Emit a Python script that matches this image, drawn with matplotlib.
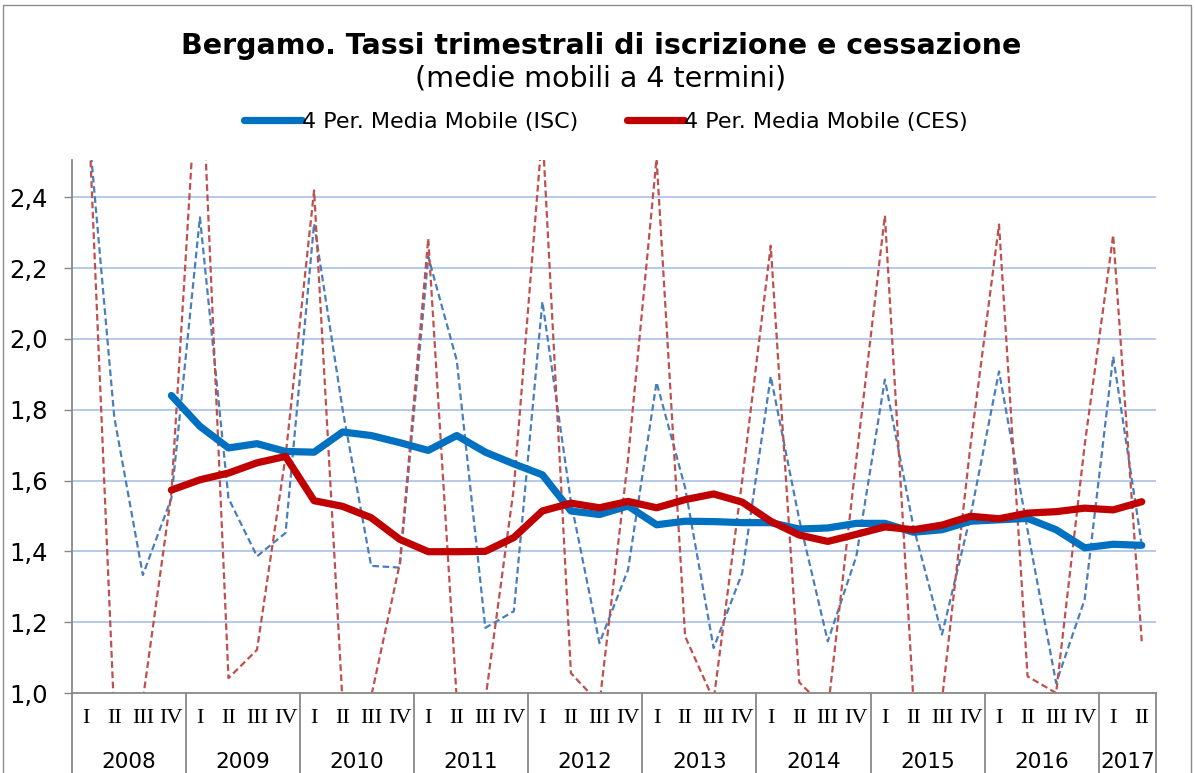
import numpy as np
import matplotlib
matplotlib.use("Agg")
import matplotlib.pyplot as plt
from matplotlib.patches import Rectangle

nan = np.nan

# trimestri 2008 I - 2017 II
trimestri = ["I", "II", "III", "IV"] * 9 + ["I", "II"]
anni = ["2008", "2009", "2010", "2011", "2012", "2013", "2014", "2015", "2016", "2017"]
trim_per_anno = [4, 4, 4, 4, 4, 4, 4, 4, 4, 2]

# tassi trimestrali (dati grezzi)
isc = [2.69, 1.778, 1.333, 1.55, 2.343, 1.55, 1.386, 1.452, 2.325, 1.80,
       1.359, 1.354, 2.232, 1.939, 1.184, 1.231, 2.105, 1.54, 1.141, 1.348,
       1.877, 1.58, 1.127, 1.339, 1.894, 1.49, 1.146, 1.386, 1.885, 1.47,
       1.165, 1.50, 1.908, 1.46, 1.028, 1.264, 1.95, 1.419]
ces = [2.82, 0.93, 0.98, 1.565, 2.89, 1.042, 1.122, 1.668, 2.419, 0.97,
       0.99, 1.364, 2.283, 0.98, 0.98, 1.58, 2.59, 1.056, 0.97, 1.66,
       2.51, 1.16, 0.98, 1.60, 2.263, 1.03, 0.95, 1.66, 2.348, 0.98,
       0.98, 1.70, 2.323, 1.047, 1.0, 1.70, 2.293, 1.146]

# medie mobili a 4 termini
isc_mm = [nan, nan, nan, 1.84, 1.753, 1.692, 1.704, 1.682, 1.68, 1.737,
          1.727, 1.707, 1.685, 1.727, 1.68, 1.647, 1.616, 1.514, 1.504, 1.528,
          1.475, 1.485, 1.484, 1.481, 1.481, 1.463, 1.466, 1.479, 1.479, 1.454,
          1.461, 1.485, 1.489, 1.493, 1.461, 1.41, 1.42, 1.417]
ces_mm = [nan, nan, nan, 1.573, 1.602, 1.621, 1.65, 1.668, 1.543, 1.527,
          1.495, 1.434, 1.399, 1.399, 1.4, 1.439, 1.514, 1.536, 1.523, 1.541,
          1.523, 1.546, 1.562, 1.539, 1.485, 1.446, 1.428, 1.448, 1.469, 1.461,
          1.474, 1.499, 1.492, 1.508, 1.512, 1.522, 1.517, 1.54]

x = np.arange(len(trimestri))

fig = plt.figure(figsize=(11.95, 7.73), dpi=100)
W, H = 1195, 773
ax = fig.add_axes([71.5 / W, 1 - 693 / H, (1156 - 71.5) / W, (693 - 160) / H])

grid_col = "#B7C9EA"
for v in np.arange(1.2, 2.41, 0.2):
    ax.axhline(v, color=grid_col, lw=1.4, zorder=1)

ax.plot(x, isc, color="#4A7EBB", lw=1.6, ls=(0, (3, 1.6)), zorder=2)
ax.plot(x, ces, color="#C0504D", lw=1.6, ls=(0, (3, 1.6)), zorder=2)
l1, = ax.plot(x, isc_mm, color="#0070C0", lw=5.2, solid_capstyle="round",
              solid_joinstyle="round", zorder=3, label="4 Per. Media Mobile (ISC)")
l2, = ax.plot(x, ces_mm, color="#C00000", lw=5.2, solid_capstyle="round",
              solid_joinstyle="round", zorder=4, label="4 Per. Media Mobile (CES)")

ax.set_xlim(-0.5, len(x) - 0.5)
ax.set_ylim(1.0, 2.505)
ax.set_yticks(np.arange(1.0, 2.41, 0.2))
ax.set_yticklabels([f"{v:.1f}".replace(".", ",") for v in np.arange(1.0, 2.41, 0.2)],
                   fontsize=17.5)
ax.tick_params(axis="y", direction="out", length=6, width=1, color="#888888", pad=11)
ax.set_xticks([])

for s in ["top", "right"]:
    ax.spines[s].set_visible(False)
for s in ["left", "bottom"]:
    ax.spines[s].set_color("#888888")
    ax.spines[s].set_linewidth(1.3)

# etichette a due livelli (trimestre / anno)
tr = ax.get_xaxis_transform()
for i, q in enumerate(trimestri):
    ax.text(x[i], -0.047, q, transform=tr, ha="center", va="center",
            fontsize=16, family="Liberation Serif")

edge = -0.5
sep_bottom = -(H - 693) / (693 - 160) - 0.02
ax.plot([edge, edge], [0, sep_bottom], transform=tr, color="#888888", lw=1.3, clip_on=False)
for a, n in zip(anni, trim_per_anno):
    ax.text(edge + n / 2, -0.13, a, transform=tr, ha="center", va="center", fontsize=15.5)
    edge += n
    ax.plot([edge, edge], [0, sep_bottom], transform=tr, color="#888888", lw=1.3, clip_on=False)

fig.text(601 / W, 1 - 46 / H, "Bergamo. Tassi trimestrali di iscrizione e cessazione",
         ha="center", va="center", fontsize=20.5, fontweight="bold")
fig.text(601 / W, 1 - 79 / H, "(medie mobili a 4 termini)",
         ha="center", va="center", fontsize=20.5)

fig.legend(handles=[l1, l2], loc="center", bbox_to_anchor=(606 / W, 1 - 122 / H),
           ncol=2, frameon=False, fontsize=16, handlelength=2.6,
           handletextpad=0.0, columnspacing=2.2)

fig.patches.append(Rectangle((3 / W, -0.05), (1191 - 3) / W, 1.05 - 5 / H,
                             transform=fig.transFigure, fill=False,
                             edgecolor="#8C8C8C", lw=1.0))

fig.savefig("out.png", dpi=100)
